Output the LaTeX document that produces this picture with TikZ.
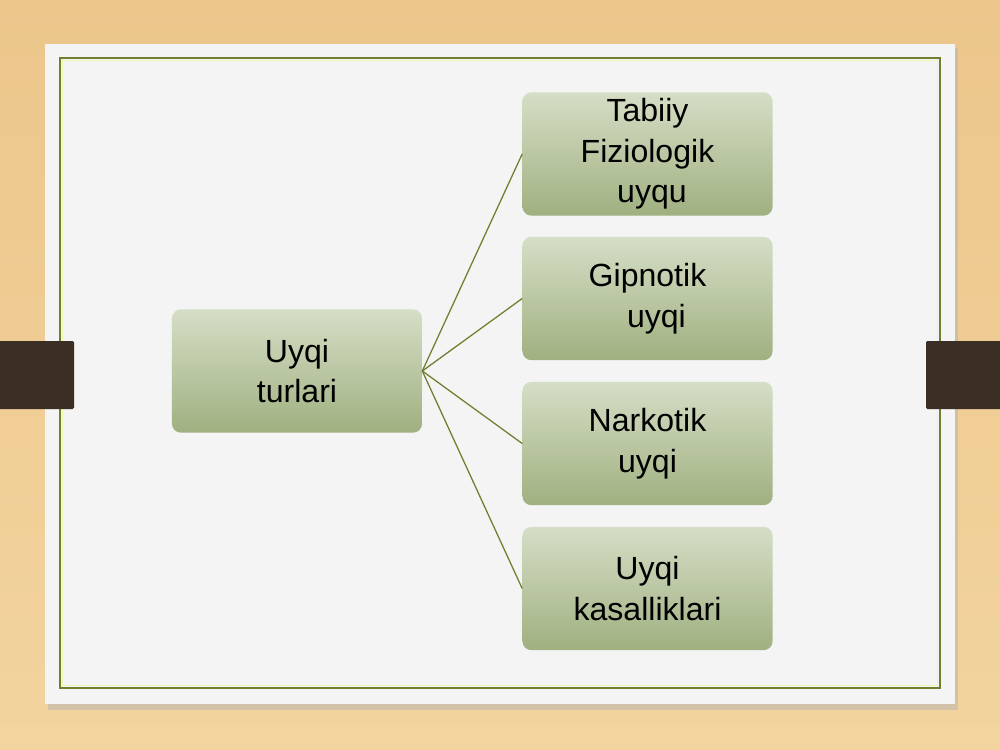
\documentclass[tikz,border=0pt]{standalone}
\usepackage{fontspec}
\setmainfont{Liberation Sans}
\definecolor{woodtop}{HTML}{ECC68B}
\definecolor{woodbot}{HTML}{F3D49E}
\definecolor{card}{HTML}{F4F4F4}
\definecolor{tab}{HTML}{3A2E25}
\definecolor{olive}{HTML}{6E7F2E}
\definecolor{boxtop}{HTML}{D5DEC6}
\definecolor{boxbot}{HTML}{A0B080}
\def\boxw{6.25cm}
\def\boxh{3.08cm}
\tikzset{
    sleepbox/.style={rectangle, rounded corners=0.22cm, top color=boxtop, bottom color=boxbot,
        minimum width=\boxw, minimum height=\boxh, align=center,
        font=\fontsize{22.8}{28.8}\selectfont, inner sep=0pt},
    branch/.style={olive, line width=0.9pt}
}

\begin{document}
\begin{tikzpicture}[x=0.025cm, y=-0.025cm]
    \useasboundingbox (0,0) rectangle (1000,750);
    % background and card
    \shade[top color=woodtop, bottom color=woodbot] (0,0) rectangle (1000,750);
    \fill[black!30, opacity=0.5] (48,48) rectangle (958,710);
    \fill[card] (45,44) rectangle (955,704);
    \draw[olive!30!yellow!30, line width=0.6pt] (62.5,60.5) rectangle (937.5,685.5);
    \draw[olive, line width=1.2pt] (60,58) rectangle (940,688);
    % side tabs
    \fill[tab, rounded corners=1pt] (-5,341) rectangle (74,409);
    \fill[tab, rounded corners=1pt] (926,341) rectangle (1005,409);

    \node[sleepbox] (turlari) at (297,371) {Uyqi\\turlari};
    \node[sleepbox] (tabiiy) at (647.5,154) {Tabiiy\\Fiziologik\\\ uyqu};
    \node[sleepbox] (gipnoz) at (647.5,298.5) {Gipnotik\\\ \ uyqi};
    \node[sleepbox] (narkoz) at (647.5,443.5) {Narkotik\\uyqi};
    \node[sleepbox] (kasal) at (647.5,588.5) {Uyqi\\kasalliklari};

    \foreach \n in {tabiiy, gipnoz, narkoz, kasal}
        \draw[branch] (turlari.east) -- (\n.west);
\end{tikzpicture}
\end{document}
